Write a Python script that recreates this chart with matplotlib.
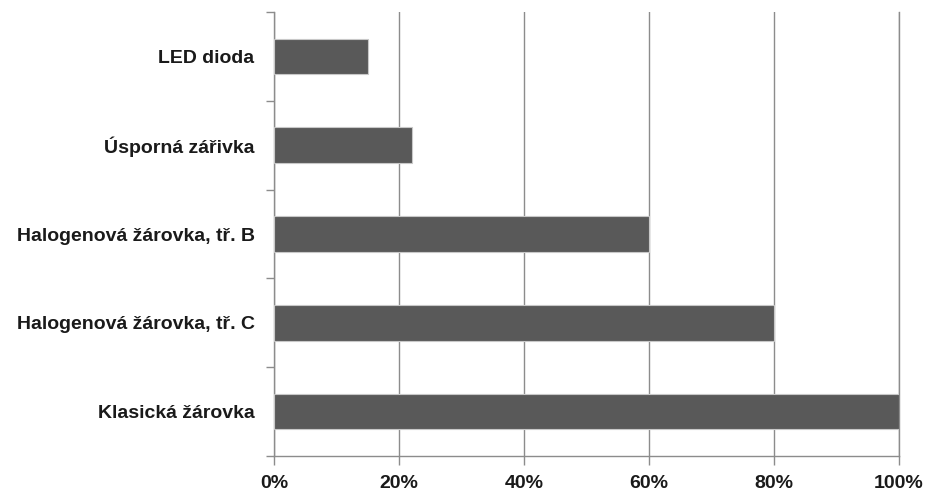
import matplotlib.pyplot as plt
import matplotlib.ticker as mticker
import numpy as np

categories = ['Klasická žárovka', 'Halogenová žárovka, tř. C', 'Halogenová žárovka, tř. B',
              'Úsporná zářivka', 'LED dioda']
values = [100, 80, 60, 22, 15]
xticks = [0, 20, 40, 60, 80, 100]

plt.rcParams['font.family'] = ['Liberation Sans', 'DejaVu Sans']

fig = plt.figure(figsize=(9.26, 4.94), dpi=100, facecolor='white')
ax = fig.add_axes([274/926, 38/494, 625/926, 444/494])

pos = np.arange(len(categories))
ax.barh(pos, values, height=0.4, color='#595959', edgecolor='#c8c8c8', linewidth=0.8, zorder=3)

ax.set_xlim(0, 100)
ax.set_ylim(-0.5, len(categories) - 0.5)
ax.set_xticks(xticks)
ax.xaxis.set_major_formatter(mticker.FuncFormatter(lambda v, p: f'{v:.0f}%'))
ax.set_yticks(pos)
ax.set_yticklabels(categories)
ax.set_yticks(np.arange(-0.5, len(categories)), minor=True)

ax.grid(axis='x', color='#8c8c8c', linewidth=1.0, zorder=0)
ax.spines['top'].set_visible(False)
for s in ['left', 'bottom', 'right']:
    ax.spines[s].set_color('#8c8c8c')
    ax.spines[s].set_linewidth(1.0)

ax.tick_params(axis='y', which='major', length=0, pad=14, labelsize=14, labelcolor='#1a1a1a')
ax.tick_params(axis='y', which='minor', length=6, color='#8c8c8c', width=1.0)
ax.tick_params(axis='x', length=6.5, color='#8c8c8c', width=1.0, pad=7, labelsize=14, labelcolor='#1a1a1a')
for lab in ax.get_xticklabels() + ax.get_yticklabels():
    lab.set_fontweight('bold')

fig.savefig('out.png', dpi=100)
